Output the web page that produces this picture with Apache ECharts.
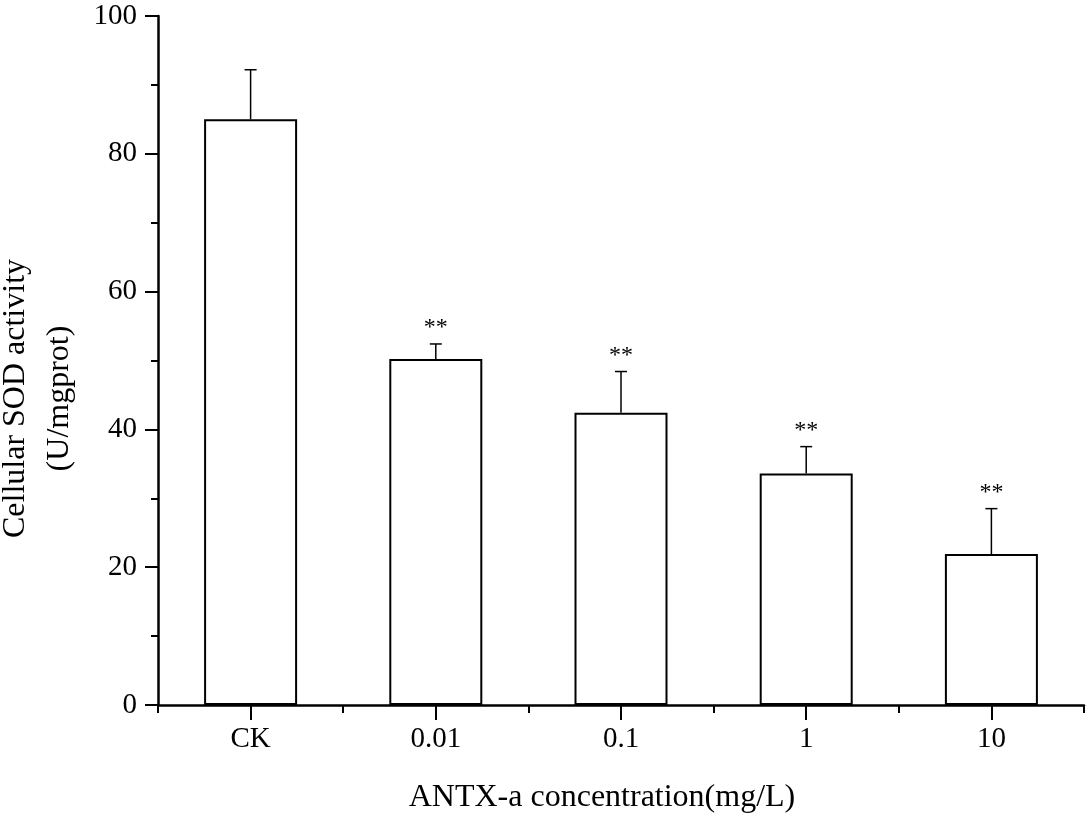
<!DOCTYPE html>
<html>
<head>
<meta charset="utf-8">
<script src="https://cdn.jsdelivr.net/npm/echarts@6/dist/echarts.min.js"></script>
<style>
  html, body { margin: 0; padding: 0; background: #fff; }
  #main { width: 1089px; height: 820px; }
</style>
</head>
<body>
<div id="main"></div>
<script>
var categories = ['CK', '0.01', '0.1', '1', '10'];
var sodMean = [85.0, 50.2, 42.4, 33.6, 21.9];
var sodErr = [7.2, 2.2, 6.0, 3.9, 6.6];
var signif = ['', '**', '**', '**', '**'];
var yTicks = [0, 20, 40, 60, 80, 100];

var serif = '"Liberation Serif", "Times New Roman", serif';

var errData = [];
for (var i = 0; i < categories.length; i++) {
    errData.push([i, sodMean[i], sodErr[i], signif[i]]);
}

var chart = echarts.init(document.getElementById('main'));
chart.setOption({
    animation: false,
    backgroundColor: '#fff',
    grid: { left: 158, right: 5, top: 16, bottom: 115, outerBoundsMode: 'none', containLabel: false },
    xAxis: [{
        type: 'category',
        data: categories,
        boundaryGap: true,
        axisLine: { lineStyle: { color: '#000', width: 2.5 } },
        axisTick: { show: true, length: 8, lineStyle: { color: '#000', width: 2 } },
        axisLabel: { color: '#000', fontFamily: serif, fontSize: 29, margin: 20 },
        name: 'ANTX-a concentration(mg/L)',
        nameLocation: 'middle',
        nameGap: 77,
        nameTextStyle: { color: '#000', fontFamily: serif, fontSize: 32, padding: [0, 38, 0, 0] }
    }, {
        // overlay axis: longer ticks under each category
        type: 'category',
        data: categories,
        position: 'bottom',
        boundaryGap: true,
        axisLine: { show: false },
        axisTick: { show: true, alignWithLabel: true, length: 15, lineStyle: { color: '#000', width: 2 } },
        axisLabel: { show: false }
    }],
    yAxis: {
        type: 'value',
        min: yTicks[0],
        max: yTicks[yTicks.length - 1],
        interval: 20,
        splitLine: { show: false },
        axisLine: { show: true, lineStyle: { color: '#000', width: 2.5 } },
        axisTick: { show: true, length: 13, lineStyle: { color: '#000', width: 2 } },
        minorTick: { show: true, splitNumber: 2, length: 7, lineStyle: { color: '#000', width: 2 } },
        axisLabel: { color: '#000', fontFamily: serif, fontSize: 29, margin: 21 },
        name: 'Cellular SOD activity\n(U/mgprot)',
        nameLocation: 'middle',
        nameRotate: 90,
        nameGap: 76,
        nameTextStyle: { color: '#000', fontFamily: serif, fontSize: 32, lineHeight: 44, padding: [0, 76, 0, 0] }
    },
    series: [{
        type: 'bar',
        data: sodMean,
        barWidth: 93,
        itemStyle: { color: '#fff', borderColor: '#000', borderWidth: 2 }
    }, {
        type: 'custom',
        data: errData,
        z: 3,
        renderItem: function (params, api) {
            var idx = api.value(0);
            var base = api.coord([idx, api.value(1)]);
            var top = api.coord([idx, api.value(1) + api.value(2)]);
            var stroke = { stroke: '#000', lineWidth: 1.5 };
            return {
                type: 'group',
                children: [{
                    type: 'line',
                    shape: { x1: base[0], y1: base[1], x2: top[0], y2: top[1] },
                    style: stroke
                }, {
                    type: 'line',
                    shape: { x1: top[0] - 6, y1: top[1], x2: top[0] + 6, y2: top[1] },
                    style: stroke
                }, {
                    type: 'text',
                    style: {
                        text: errData[params.dataIndex][3],
                        x: top[0],
                        y: top[1] - 4,
                        textAlign: 'center',
                        textVerticalAlign: 'bottom',
                        fill: '#000',
                        font: '24px ' + serif
                    }
                }]
            };
        }
    }]
});
</script>
</body>
</html>
